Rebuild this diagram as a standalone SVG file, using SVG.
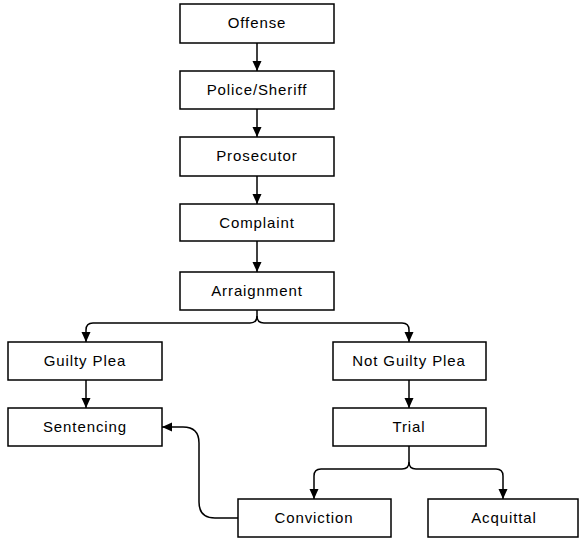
<svg xmlns="http://www.w3.org/2000/svg" width="579" height="539" viewBox="0 0 579 539">
<style>
.box{fill:#fff;stroke:#000;stroke-width:1.5}
.lbl{font-family:"Liberation Sans",Arial,sans-serif;font-size:15px;letter-spacing:0.9px;text-anchor:middle;fill:#000}
.con{fill:none;stroke:#000;stroke-width:1.5}
</style>
<defs>
<marker id="ah" viewBox="0 0 10 10" refX="10" refY="5" markerWidth="11" markerHeight="10" markerUnits="userSpaceOnUse" orient="auto">
<path d="M0,0.5 L10,5 L0,9.5 z" fill="#000"/>
</marker>
</defs>
<rect width="579" height="539" fill="#fff"/>
<g id="connectors">
<path class="con" marker-end="url(#ah)" d="M257,43 V71"/>
<path class="con" marker-end="url(#ah)" d="M257,109 V137"/>
<path class="con" marker-end="url(#ah)" d="M257,176 V204"/>
<path class="con" marker-end="url(#ah)" d="M257,241 V272"/>
<path class="con" marker-end="url(#ah)" d="M257,310 V316 Q257,323 250,323 H93 Q86,323 86,330 V342"/>
<path class="con" marker-end="url(#ah)" d="M257,316 Q257,323 264,323 H402 Q409,323 409,330 V342"/>
<path class="con" marker-end="url(#ah)" d="M86,380 V408"/>
<path class="con" marker-end="url(#ah)" d="M409,380 V408"/>
<path class="con" marker-end="url(#ah)" d="M409,446 V462 Q409,469 402,469 H321 Q314,469 314,476 V499"/>
<path class="con" marker-end="url(#ah)" d="M409,462 Q409,469 416,469 H496 Q503,469 503,476 V499"/>
<path class="con" marker-end="url(#ah)" d="M238,518 H215 Q199,518 199,502 V443 Q199,427 183,427 H162"/>
</g>
<g id="offense"><rect class="box" x="180" y="4" width="154" height="39"/><text class="lbl" x="257" y="28">Offense</text></g>
<g id="police"><rect class="box" x="180" y="71" width="154" height="38"/><text class="lbl" x="257" y="95">Police/Sheriff</text></g>
<g id="prosecutor"><rect class="box" x="180" y="137" width="154" height="39"/><text class="lbl" x="257" y="161">Prosecutor</text></g>
<g id="complaint"><rect class="box" x="180" y="204" width="154" height="37"/><text class="lbl" x="257" y="228">Complaint</text></g>
<g id="arraignment"><rect class="box" x="180" y="272" width="154" height="38"/><text class="lbl" x="257" y="296">Arraignment</text></g>
<g id="guilty-plea"><rect class="box" x="8" y="342" width="154" height="38"/><text class="lbl" x="85" y="366">Guilty Plea</text></g>
<g id="sentencing"><rect class="box" x="8" y="408" width="154" height="38"/><text class="lbl" x="85" y="432">Sentencing</text></g>
<g id="not-guilty-plea"><rect class="box" x="333" y="342" width="153" height="38"/><text class="lbl" x="409" y="366">Not Guilty Plea</text></g>
<g id="trial"><rect class="box" x="333" y="408" width="153" height="38"/><text class="lbl" x="409" y="432">Trial</text></g>
<g id="conviction"><rect class="box" x="238" y="499" width="153" height="38"/><text class="lbl" x="314" y="523">Conviction</text></g>
<g id="acquittal"><rect class="box" x="428" y="499" width="150" height="38"/><text class="lbl" x="504" y="523">Acquittal</text></g>
</svg>
